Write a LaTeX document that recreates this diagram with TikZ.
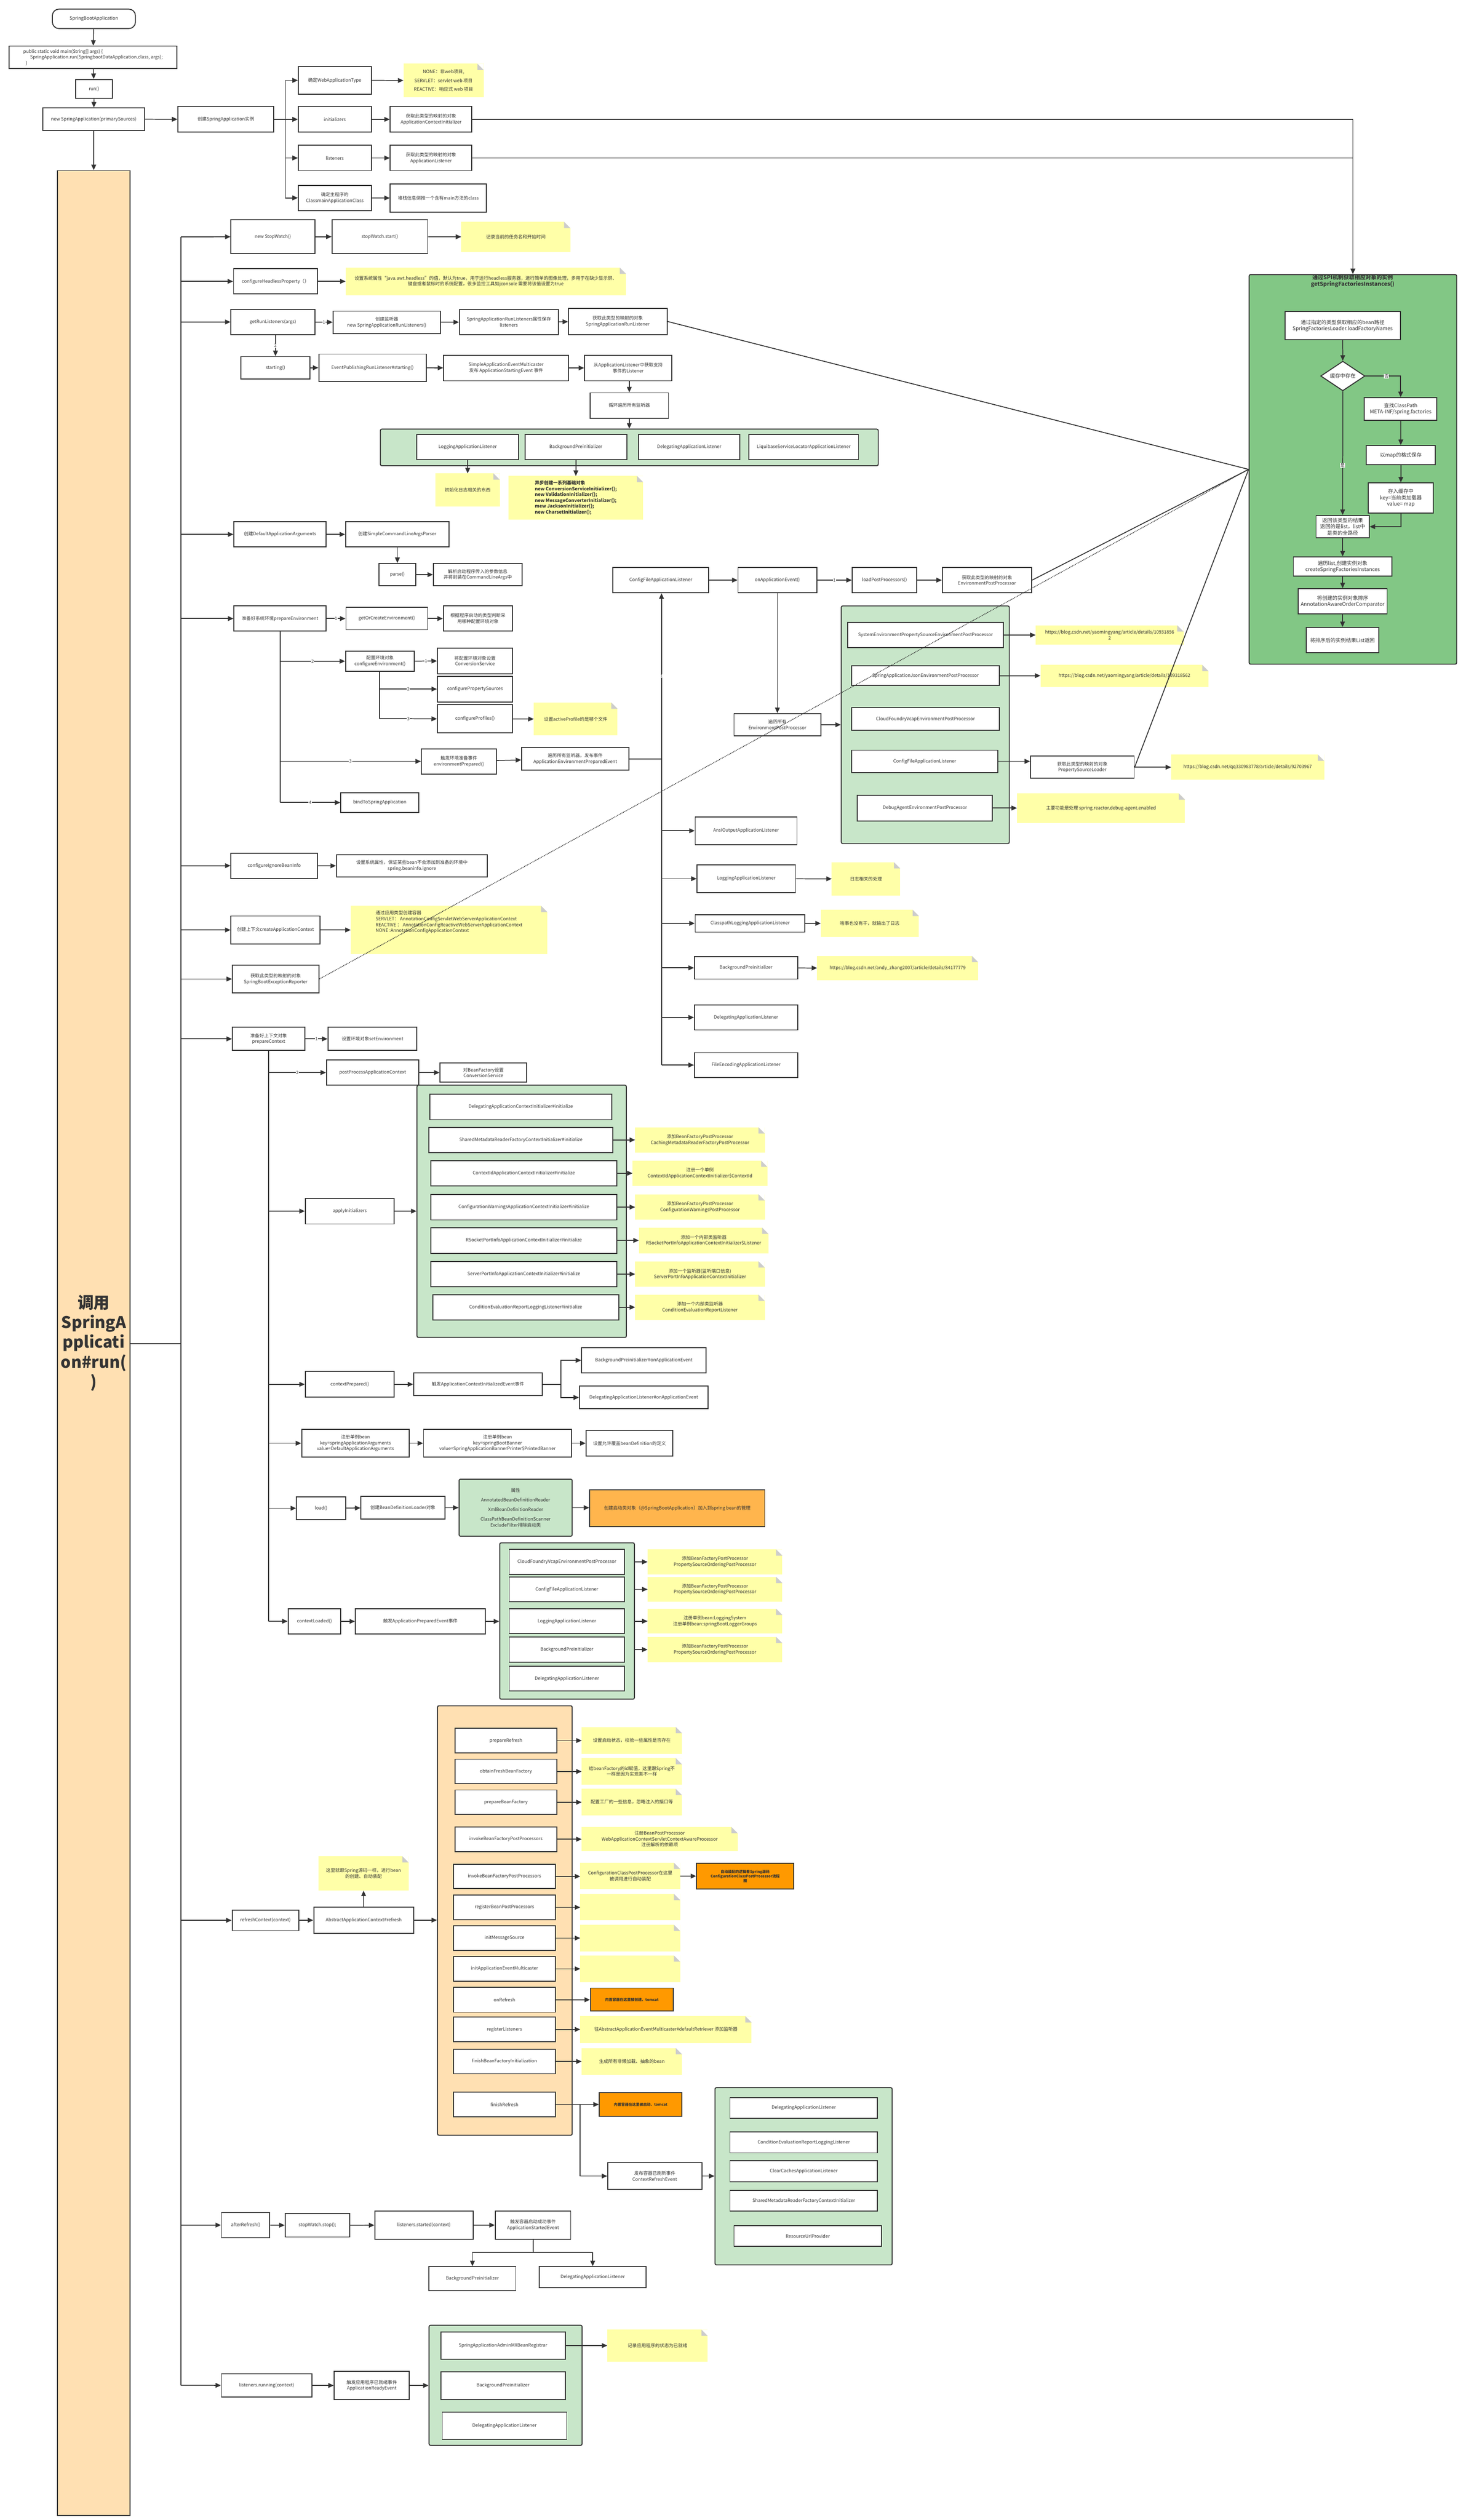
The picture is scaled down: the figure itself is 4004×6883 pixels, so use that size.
\documentclass[tikz,border=0pt]{standalone}
\usepackage{fontspec}
\setmainfont{Noto Sans CJK SC}
\usetikzlibrary{arrows.meta,shapes.geometric}
\definecolor{noteY}{HTML}{FFFFA8}
\definecolor{gLight}{HTML}{C8E6C9}
\definecolor{gDark}{HTML}{82C785}
\definecolor{peach}{HTML}{FFE0B2}
\definecolor{orA}{HTML}{FF9900}
\definecolor{orB}{HTML}{FFB54D}
\definecolor{ink}{HTML}{333333}
\newcommand\mkbox[7][]{\node[box,#1,minimum width={(#5-#3)*1pt},minimum height={(#6-#4)*1pt}] (#2) at ({(#3+#5)/2},{(#4+#6)/2}) {#7};}
\tikzset{
 box/.style={draw=ink,line width=2.6pt,fill=white,align=center,inner sep=2pt,text=ink},
 note/.style={draw=none,fill=noteY,line width=0pt,path picture={
   \fill[white]([xshift=-17pt]path picture bounding box.north east)--(path picture bounding box.north east)--([yshift=-17pt]path picture bounding box.north east)--cycle;
   \fill[gray!40]([xshift=-17pt]path picture bounding box.north east)--([yshift=-17pt]path picture bounding box.north east)--([xshift=-17pt,yshift=-17pt]path picture bounding box.north east)--cycle;}},
 gpan/.style={fill=gLight,draw=ink,line width=2.6pt,rounded corners=4pt},
 opan/.style={fill=peach,draw=ink,line width=2.6pt,rounded corners=4pt},
 obox/.style={fill=orA,font=\bfseries},
 arr/.style={draw=ink,line width=2.4pt,-{Triangle[length=15pt,width=13pt]}},
 ln/.style={draw=ink,line width=2.4pt},
 lab/.style={fill=white,inner sep=1pt,font=\fontsize{12}{14}\selectfont,text=ink},
}
\begin{document}
\begin{tikzpicture}[x=1pt,y=-1pt,font=\fontsize{12.5}{16}\selectfont]
\useasboundingbox (0,0) rectangle (4004,6883);
\fill[white] (0,0) rectangle (4004,6883);
% ===== right SPI panel =====
\mkbox[gpan,fill=gDark]{gpR}{3412}{750}{3979}{1814}{}
\node[font=\fontsize{15}{18}\selectfont\bfseries,align=center,text=ink] at (3695,768) {通过SPI机制获取相应对象的实例\\getSpringFactoriesInstances()};
\begin{scope}[font=\fontsize{14}{17}\selectfont]
\mkbox{s1}{3510}{851}{3825}{928}{通过指定的类型获取相应的bean路径\\SpringFactoriesLoader.loadFactoryNames}
\node[draw=ink,line width=2.6pt,fill=white,shape=diamond,aspect=1.5,minimum width=121pt,minimum height=81pt,inner sep=0pt,text=ink] (dia) at (3668,1027) {缓存中存在};
\mkbox{s2}{3727}{1086}{3925}{1148}{查找ClassPath\\META-INF/spring.factories}
\mkbox{s3}{3732}{1217}{3921}{1269}{以map的格式保存}
\mkbox{s4}{3738}{1319}{3915}{1401}{存入缓存中\\key=当前类加载器\\value= map}
\mkbox{s5}{3595}{1408}{3740}{1469}{返回该类型的结果\\返回的是list，list中\\是类的全路径}
\mkbox{s6}{3533}{1521}{3802}{1574}{遍历list,创建实例对象\\createSpringFactoriesInstances}
\mkbox{s7}{3546}{1608}{3789}{1677}{将创建的实例对象排序\\AnnotationAwareOrderComparator}
\mkbox{s8}{3568}{1714}{3766}{1783}{将排序后的实例结果List返回}
\end{scope}
\draw[arr] (s1) -- (dia);
\draw[arr] (dia.east) -| node[lab,pos=0.3]{否} (s2.north);
\draw[arr] (s2) -- (s3);
\draw[arr] (s3) -- (s4);
\draw[arr] (s4.south) |- (s5.east);
\draw[arr] (dia.south) -- node[lab,pos=0.6]{是} (s5.north);
\draw[arr] (s5) -- (s6);
\draw[arr] (s6) -- (s7);
\draw[arr] (s7) -- (s8);
% ===== top =====
\mkbox[rounded corners=18pt]{sba}{143}{25}{370}{78}{SpringBootApplication}
\mkbox[align=left]{mainb}{25}{126}{483}{187}{public static void main(String[] args) \{\\\hspace*{1.5em}SpringApplication.run(SpringbootDataApplication.class, args);\\\hspace*{0.5em}\}}
\mkbox{runb}{207}{217}{307}{269}{run()}
\mkbox{newsa}{117}{295}{395}{356}{new SpringApplication(primarySources)}
\mkbox{create}{486}{291}{748}{361}{创建SpringApplication实例}
\mkbox{webtype}{815}{182}{1014}{257}{确定WebApplicationType}
\mkbox[note]{nweb}{1102}{174}{1321}{266}{NONE：非web项目,\\[8pt]SERVLET：servlet web 项目\\[8pt]REACTIVE：响应式 web 项目}
\mkbox{inits}{815}{291}{1014}{361}{initializers}
\mkbox{aci}{1066}{291}{1289}{361}{获取此类型的映射的对象\\ApplicationContextInitializer}
\mkbox{lis}{815}{397}{1014}{466}{listeners}
\mkbox{al}{1066}{397}{1289}{466}{获取此类型的映射的对象\\ApplicationListener}
\mkbox{mcls}{815}{506}{1014}{575}{确定主程序的\\ClassmainApplicationClass}
\mkbox{stack}{1066}{503}{1329}{579}{堆栈信息倒推一个含有main方法的class}
\draw[arr] (sba) -- (mainb);
\draw[arr] (mainb) -- (runb);
\draw[arr] (runb) -- (newsa);
\draw[arr] (newsa) -- (create);
\coordinate (cb) at (780,326);
\draw[ln] (create.east) -- (cb);
\draw[arr] (cb) |- (webtype);
\draw[arr] (cb) -- (inits);
\draw[arr] (cb) |- (lis);
\draw[arr] (cb) |- (mcls);
\draw[arr] (webtype) -- (nweb);
\draw[arr] (inits) -- (aci);
\draw[arr] (lis) -- (al);
\draw[arr] (mcls) -- (stack);
\draw[arr] (aci.east) -| (gpR.north);
\draw[ln] (al.east) -- (al.east -| gpR.north);
% ===== run column =====
\mkbox[fill=peach,font=\fontsize{44}{54}\selectfont\bfseries]{runcol}{157}{466}{355}{6870}{调用\\SpringA\\pplicati\\on\#run(\\)}
\draw[arr] (newsa) -- (newsa |- runcol.north);
\coordinate (tk) at (494,3670);
\coordinate (ttop) at (494,647);
\coordinate (tbot) at (494,6515);
\draw[ln] (runcol.east |- tk) -- (tk);
\draw[ln] (ttop) -- (tbot);
% ===== stopwatch / headless / listeners =====
\mkbox{sw}{631}{600}{860}{693}{new  StopWatch()}
\mkbox{sws}{907}{600}{1168}{693}{stopWatch.start()}
\mkbox[note]{n1}{1260}{606}{1558}{688}{记录当前的任务名和开始时间}
\draw[arr] (ttop) -- (sw); \draw[arr] (sw) -- (sws); \draw[arr] (sws) -- (n1);
\mkbox{hl}{638}{734}{867}{803}{configureHeadlessProperty（）}
\mkbox[note]{n2}{944}{731}{1710}{806}{设置系统属性“java.awt.headless”的值，默认为true，用于运行headless服务器，进行简单的图像处理，多用于在缺少显示屏、\\键盘或者鼠标时的系统配置，很多监控工具如jconsole 需要将该值设置为true}
\draw[arr] (ttop |- hl) -- (hl); \draw[arr] (hl) -- (n2);
\mkbox{grl}{631}{845}{860}{914}{getRunListeners(args)}
\mkbox{cl}{910}{850}{1203}{911}{创建监听器\\new SpringApplicationRunListeners()}
\mkbox{sarl}{1255}{845}{1525}{914}{SpringApplicationRunListeners属性保存\\listeners}
\mkbox{gsarl}{1553}{842}{1822}{914}{获取此类型的映射的对象\\SpringApplicationRunListener}
\draw[arr] (ttop |- grl) -- (grl);
\draw[arr] (grl) -- node[lab]{1} (cl); \draw[arr] (cl) -- (sarl); \draw[arr] (sarl) -- (gsarl);
\draw[ln] (gsarl.east) -- (gpR.west);
\mkbox{starting}{658}{974}{847}{1035}{starting()}
\mkbox{eprl}{871}{967}{1164}{1042}{EventPublishingRunListener\#starting()}
\mkbox{saem}{1212}{970}{1553}{1040}{SimpleApplicationEventMulticaster\\发布 ApplicationStartingEvent 事件}
\mkbox{fromal}{1597}{970}{1835}{1040}{从ApplicationListener中获取支持\\事件的Listener}
\mkbox{loop}{1612}{1073}{1826}{1142}{循环遍历所有监听器}
\draw[arr] (grl.south -| starting) -- node[lab]{2} (starting);
\draw[arr] (starting) -- (eprl); \draw[arr] (eprl) -- (saem); \draw[arr] (saem) -- (fromal);
\draw[arr] (fromal.south -| loop) -- (loop);
\mkbox[gpan]{gp1}{1039}{1172}{2399}{1272}{}
\mkbox{lg1}{1138}{1187}{1417}{1256}{LoggingApplicationListener}
\mkbox{bg1}{1434}{1187}{1712}{1256}{BackgroundPreinitializer}
\mkbox{dl1}{1744}{1187}{2021}{1256}{DelegatingApplicationListener}
\mkbox{lq1}{2046}{1187}{2345}{1256}{LiquibaseServiceLocatorApplicationListener}
\draw[arr] (loop) -- (loop |- gp1.north);
\mkbox[note]{nlog}{1190}{1293}{1365}{1384}{初始化日志相关的东西}
\mkbox[note,align=left,font=\fontsize{12.5}{16}\selectfont\bfseries]{nasync}{1389}{1300}{1757}{1419}{异步创建一系列基础对象\\new ConversionServiceInitializer();\\new ValidationInitializer();\\new MessageConverterInitializer();\\mew JacksonInitializer();\\new CharsetInitializer();}
\draw[arr] (lg1.south) -- (lg1.south |- nlog.north);
\draw[arr] (bg1.south) -- (bg1.south |- nasync.north);
% ===== arguments =====
\mkbox{daa}{639}{1425}{891}{1494}{创建DefaultApplicationArguments}
\mkbox{scl}{944}{1425}{1226}{1494}{创建SimpleCommandLineArgsParser}
\mkbox{parse}{1035}{1539}{1136}{1600}{parse()}
\mkbox{pinfo}{1184}{1539}{1426}{1600}{解析启动程序传入的参数信息\\并将封装在CommandLineArgs中}
\draw[arr] (ttop |- daa) -- (daa); \draw[arr] (daa) -- (scl);
\draw[arr] (scl.south -| parse) -- (parse); \draw[arr] (parse) -- (pinfo);
% ===== prepareEnvironment =====
\mkbox{pe}{639}{1655}{891}{1724}{准备好系统环境prepareEnvironment}
\mkbox{goce}{945}{1659}{1168}{1720}{getOrCreateEnvironment()}
\mkbox{gocen}{1211}{1655}{1400}{1724}{根据程序启动的类型判断采\\用哪种配置环境对象}
\mkbox{ce}{944}{1779}{1132}{1833}{配置环境对象\\configureEnvironment()}
\mkbox{cs}{1195}{1770}{1400}{1840}{将配置环境对象设置\\ConversionService}
\mkbox{cps}{1195}{1847}{1400}{1917}{configurePropertySources}
\mkbox{cpf}{1195}{1925}{1400}{2002}{configureProfiles()}
\mkbox[note]{npf}{1458}{1919}{1687}{2009}{设置activeProfile的是哪个文件}
\mkbox{ep}{1151}{2045}{1356}{2114}{触发环境准备事件\\environmentPrepared()}
\mkbox{epall}{1425}{2041}{1718}{2104}{遍历所有监听器，发布事件\\ApplicationEnvironmentPreparedEvent}
\mkbox{bind}{931}{2165}{1144}{2219}{bindToSpringApplication}
\draw[arr] (ttop |- pe) -- (pe);
\draw[arr] (pe) -- node[lab]{1} (goce); \draw[arr] (goce) -- (gocen);
\coordinate (pet) at (765,2192);
\draw[ln] (pe.south -| pet) -- (pet);
\draw[arr] (pet |- ce) -- node[lab]{2} (ce);
\draw[arr] (pet |- ep) -- node[lab]{3} (ep);
\draw[arr] (pet) -- node[lab]{4} (bind);
\draw[arr] (ce) -- node[lab]{1} (cs);
\coordinate (cet) at (1037,1963);
\draw[ln] (ce.south -| cet) -- (cet);
\draw[arr] (cet |- cps) -- node[lab]{2} (cps);
\draw[arr] (cet) -- node[lab]{3} (cpf);
\draw[arr] (cpf) -- (npf);
\draw[arr] (ep) -- (epall);
% ===== ConfigFileApplicationListener branch =====
\mkbox{cfal}{1674}{1550}{1936}{1619}{ConfigFileApplicationListener}
\mkbox{oae}{2016}{1550}{2231}{1619}{onApplicationEvent()}
\mkbox{lpp}{2328}{1550}{2504}{1619}{loadPostProcessors()}
\mkbox{gepp}{2574}{1550}{2818}{1619}{获取此类型的映射的对象\\EnvironmentPostProcessor}
\mkbox{allepp}{2005}{1949}{2242}{2010}{遍历所有\\EnvironmentPostProcessor}
\draw[arr] (cfal) -- (oae); \draw[arr] (oae) -- node[lab]{1} (lpp); \draw[arr] (lpp) -- (gepp);
\draw[ln] (gepp.east) -- (gpR.west);
\draw[arr,line width=1.6pt] (oae.south -| allepp) -- (allepp);
\mkbox[gpan]{gp2}{2298}{1655}{2757}{2304}{}
\draw[arr] (allepp) -- (allepp -| gp2.west);
\mkbox{sysp}{2315}{1700}{2741}{1769}{SystemEnvironmentPropertySourceEnvironmentPostProcessor}
\mkbox{json}{2326}{1819}{2730}{1872}{SpringApplicationJsonEnvironmentPostProcessor}
\mkbox{cfv}{2326}{1933}{2730}{1995}{CloudFoundryVcapEnvironmentPostProcessor}
\mkbox{cfl}{2326}{2049}{2726}{2110}{ConfigFileApplicationListener}
\mkbox{dbg}{2342}{2172}{2711}{2242}{DebugAgentEnvironmentPostProcessor}
\mkbox[note]{nu1}{2829}{1708}{3233}{1761}{https://blog.csdn.net/yaomingyang/article/details/10931856\\2}
\mkbox[note]{nu2}{2842}{1816}{3301}{1876}{https://blog.csdn.net/yaomingyang/article/details/109318562}
\mkbox{psl}{2815}{2065}{3098}{2126}{获取此类型的映射的对象\\PropertySourceLoader}
\mkbox[note]{nu3}{3199}{2061}{3617}{2130}{https://blog.csdn.net/qq330983778/article/details/92703967}
\mkbox[note]{ndbg}{2778}{2167}{3237}{2248}{主要功能是处理 spring.reactor.debug-agent.enabled}
\draw[arr] (sysp) -- (nu1.west |- sysp); \draw[arr] (json) -- (nu2.west |- json);
\draw[arr] (cfl) -- (psl.west |- cfl); \draw[arr] (psl) -- (nu3.west |- psl);
\draw[arr] (dbg) -- (ndbg.west |- dbg);
\draw[ln] (psl.east) -- (gpR.west);
% listeners of ApplicationEnvironmentPreparedEvent
\mkbox{ansi}{1899}{2231}{2177}{2307}{AnsiOutputApplicationListener}
\mkbox{lg2}{1904}{2362}{2173}{2438}{LoggingApplicationListener}
\mkbox[note]{nlg2}{2272}{2355}{2459}{2446}{日志相关的处理}
\mkbox{cpl}{1899}{2498}{2199}{2546}{ClasspathLoggingApplicationListener}
\mkbox[note]{ncpl}{2242}{2485}{2510}{2559}{啥事也没有干，就输出了日志}
\mkbox{bg2}{1897}{2613}{2179}{2674}{BackgroundPreinitializer}
\mkbox[note]{nbg2}{2232}{2611}{2672}{2678}{https://blog.csdn.net/andy\_zhang2007/article/details/84177779}
\mkbox{dl2}{1897}{2745}{2179}{2813}{DelegatingApplicationListener}
\mkbox{fe}{1897}{2875}{2179}{2943}{FileEncodingApplicationListener}
\coordinate (lt) at (1807,2073);
\coordinate (lb) at (1807,2909);
\draw[ln] (epall.east |- lt) -- (lt) -- (lb);
\draw[arr] (lt) -- node[lab,pos=0.5]{1} (cfal.south -| lt);
\draw[arr] (lt |- ansi) -- (ansi); \draw[arr] (lt |- lg2) -- (lg2); \draw[arr] (lt |- cpl) -- (cpl);
\draw[arr] (lt |- bg2) -- (bg2); \draw[arr] (lt |- dl2) -- (dl2); \draw[arr] (lb) -- (fe);
\draw[arr] (lg2) -- (nlg2); \draw[arr] (cpl) -- (ncpl); \draw[arr] (bg2) -- (nbg2);
% ===== context creation =====
\mkbox{cibi}{631}{2330}{867}{2399}{configureIgnoreBeanInfo}
\mkbox{ncibi}{919}{2335}{1331}{2395}{设置系统属性，保证某些bean不会添加到准备的环境中\\spring.beaninfo.ignore}
\mkbox{cac}{631}{2502}{874}{2578}{创建上下文createApplicationContext}
\mkbox[note,align=left]{ncac}{958}{2474}{1495}{2606}{通过应用类型创建容器\\SERVLET： AnnotationConfigServletWebServerApplicationContext\\REACTIVE ： AnnotationConfigReactiveWebServerApplicationContext\\NONE :AnnotationConfigApplicationContext\\[30pt]}
\mkbox{sber}{635}{2636}{871}{2712}{获取此类型的映射的对象\\SpringBootExceptionReporter}
\draw[arr] (ttop |- cibi) -- (cibi); \draw[arr] (cibi) -- (ncibi);
\draw[arr] (ttop |- cac) -- (cac); \draw[arr] (cac) -- (ncac);
\draw[arr] (ttop |- sber) -- (sber);
\draw[ln,dotted,line width=2pt] (sber.east) -- (gpR.west);
% ===== prepareContext =====
\mkbox{pc}{635}{2806}{833}{2869}{准备好上下文对象\\prepareContext}
\mkbox{sete}{896}{2806}{1139}{2869}{设置环境对象setEnvironment}
\mkbox{ppac}{892}{2895}{1144}{2964}{postProcessApplicationContext}
\mkbox{cs2}{1202}{2903}{1439}{2956}{对BeanFactory设置\\ConversionService}
\draw[arr] (ttop |- pc) -- (pc); \draw[arr] (pc) -- node[lab]{1} (sete);
\coordinate (pct) at (734,4428);
\draw[ln] (pc.south -| pct) -- (pct);
\draw[arr] (pct |- ppac) -- node[lab]{2} (ppac); \draw[arr] (ppac) -- (cs2);
\mkbox[gpan]{gp3}{1139}{2964}{1711}{3653}{}
\mkbox{i1}{1174}{2989}{1671}{3058}{DelegatingApplicationContextInitializer\#initialize}
\mkbox{i2}{1172}{3079}{1674}{3148}{SharedMetadataReaderFactoryContextInitializer\#initialize}
\mkbox{i3}{1177}{3170}{1685}{3239}{ContextIdApplicationContextInitializer\#initialize}
\mkbox{i4}{1177}{3262}{1685}{3332}{ConfigurationWarningsApplicationContextInitializer\#initialize}
\mkbox{i5}{1177}{3353}{1685}{3423}{RSocketPortInfoApplicationContextInitializer\#initialize}
\mkbox{i6}{1177}{3445}{1685}{3515}{ServerPortInfoApplicationContextInitializer\#initialize}
\mkbox{i7}{1182}{3536}{1690}{3605}{ConditionEvaluationReportLoggingListener\#initialize}
\mkbox[note]{ni2}{1735}{3079}{2089}{3148}{添加BeanFactoryPostProcessor\\CachingMetadataReaderFactoryPostProcessor}
\mkbox[note]{ni3}{1728}{3170}{2096}{3239}{注册一个单例\\ContextIdApplicationContextInitializer\$ContextId}
\mkbox[note]{ni4}{1735}{3262}{2089}{3332}{添加BeanFactoryPostProcessor\\ConfigurationWarningsPostProcessor}
\mkbox[note]{ni5}{1745}{3353}{2099}{3423}{添加一个内部类监听器\\RSocketPortInfoApplicationContextInitializer\$Listener}
\mkbox[note]{ni6}{1735}{3445}{2089}{3515}{添加一个监听器(监听端口信息)\\ServerPortInfoApplicationContextInitializer}
\mkbox[note]{ni7}{1735}{3536}{2089}{3605}{添加一个内部类监听器\\ConditionEvaluationReportListener}
\foreach \a/\b in {i2/ni2,i3/ni3,i4/ni4,i5/ni5,i6/ni6,i7/ni7} \draw[arr] (\a) -- (\b.west |- \a);
\mkbox{ai}{834}{3273}{1077}{3343}{applyInitializers}
\draw[arr] (pct |- ai) -- (ai); \draw[arr] (ai) -- (ai -| gp3.west);
\mkbox{cpd}{834}{3746}{1077}{3816}{contextPrepared()}
\mkbox{acie}{1130}{3750}{1481}{3812}{触发ApplicationContextInitializedEvent事件}
\mkbox{bgo}{1589}{3681}{1928}{3750}{BackgroundPreinitializer\#onApplicationEvent}
\mkbox{dlo}{1583}{3786}{1934}{3848}{DelegatingApplicationListener\#onApplicationEvent}
\draw[arr] (pct |- cpd) -- (cpd); \draw[arr] (cpd) -- (acie);
\coordinate (af) at (1532,3781);
\draw[ln] (acie.east) -- (af);
\draw[arr] (af) |- (bgo); \draw[arr] (af) |- (dlo);
\mkbox{reg1}{824}{3904}{1118}{3980}{注册单例bean\\key=springApplicationArguments\\value=DefaultApplicationArguments}
\mkbox{reg2}{1157}{3904}{1561}{3980}{注册单例bean\\key=springBootBanner\\value=SpringApplicationBannerPrinter\$PrintedBanner}
\mkbox{ovr}{1601}{3907}{1838}{3977}{设置允许覆盖beanDefinition的定义}
\draw[arr] (pct |- reg1) -- (reg1); \draw[arr] (reg1) -- (reg2); \draw[arr] (reg2) -- (ovr);
\mkbox{load}{810}{4089}{944}{4150}{load()}
\mkbox{bdl}{986}{4087}{1215}{4149}{创建BeanDefinitionLoader对象}
\mkbox[gpan]{attr}{1254}{4040}{1563}{4196}{属性\\[10pt]AnnotatedBeanDefinitionReader\\[10pt]XmlBeanDefinitionReader\\[10pt]ClassPathBeanDefinitionScanner\\ExcludeFilter排除启动类}
\mkbox[fill=orB]{ostart}{1611}{4069}{2089}{4170}{创建启动类对象（@SpringBootApplication）加入到spring bean的管理}
\draw[arr] (pct |- load) -- (load); \draw[arr] (load) -- (bdl); \draw[arr] (bdl) -- (attr.west |- bdl); \draw[arr] (attr.east |- bdl) -- (ostart.west |- bdl);
\mkbox[gpan]{gp4}{1365}{4214}{1733}{4641}{}
\mkbox{l1}{1391}{4232}{1706}{4300}{CloudFoundryVcapEnvironmentPostProcessor}
\mkbox{l2}{1391}{4307}{1706}{4375}{ConfigFileApplicationListener}
\mkbox{l3}{1391}{4394}{1706}{4462}{LoggingApplicationListener}
\mkbox{l4}{1391}{4471}{1706}{4540}{BackgroundPreinitializer}
\mkbox{l5}{1391}{4551}{1706}{4619}{DelegatingApplicationListener}
\mkbox[note]{nl1}{1769}{4232}{2137}{4300}{添加BeanFactoryPostProcessor\\PropertySourceOrderingPostProcessor}
\mkbox[note]{nl2}{1769}{4307}{2137}{4375}{添加BeanFactoryPostProcessor\\PropertySourceOrderingPostProcessor}
\mkbox[note]{nl3}{1769}{4394}{2137}{4462}{注册单例bean:LoggingSystem\\注册单例bean:springBootLoggerGroups}
\mkbox[note]{nl4}{1769}{4471}{2137}{4540}{添加BeanFactoryPostProcessor\\PropertySourceOrderingPostProcessor}
\foreach \a/\b in {l1/nl1,l2/nl2,l3/nl3,l4/nl4} \draw[arr] (\a.east -| gp4.east) -- (\b);
\mkbox{cld}{787}{4394}{931}{4463}{contextLoaded()}
\mkbox{ape}{971}{4394}{1326}{4463}{触发ApplicationPreparedEvent事件}
\draw[arr] (pct) -- (cld); \draw[arr] (cld) -- (ape); \draw[arr] (ape) -- (ape -| gp4.west);
% ===== refresh =====
\mkbox[opan]{op}{1195}{4659}{1563}{5832}{}
\mkbox{rc}{634}{5217}{816}{5273}{refreshContext(context)}
\mkbox{aac}{857}{5209}{1130}{5280}{AbstractApplicationContext\#refresh}
\mkbox[note]{nsp}{870}{5070}{1116}{5164}{这里就跟Spring源码一样，进行bean\\的创建、自动装配}
\draw[arr] (ttop |- rc) -- (rc); \draw[arr] (rc) -- (aac);
\draw[arr] (aac) -- (aac -| op.west); \draw[arr] (aac) -- (nsp);
\mkbox{r1}{1243}{4720}{1521}{4788}{prepareRefresh}
\mkbox{r2}{1243}{4805}{1521}{4872}{obtainFreshBeanFactory}
\mkbox{r3}{1243}{4889}{1521}{4956}{prepareBeanFactory}
\mkbox{r4}{1243}{4990}{1521}{5057}{invokeBeanFactoryPostProcessors}
\mkbox{r5}{1239}{5092}{1517}{5158}{invokeBeanFactoryPostProcessors}
\mkbox{r6}{1239}{5176}{1517}{5243}{registerBeanPostProcessors}
\mkbox{r7}{1239}{5260}{1517}{5327}{initMessageSource}
\mkbox{r8}{1239}{5344}{1517}{5411}{initApplicationEventMulticaster}
\mkbox{r9}{1239}{5428}{1517}{5496}{onRefresh}
\mkbox{r10}{1239}{5509}{1517}{5577}{registerListeners}
\mkbox{r11}{1239}{5597}{1517}{5664}{finishBeanFactoryInitialization}
\mkbox{r12}{1239}{5714}{1517}{5782}{finishRefresh}
\mkbox[note]{nr1}{1589}{4717}{1863}{4790}{设置启动状态，校验一些属性是否存在}
\mkbox[note]{nr2}{1589}{4802}{1863}{4874}{给beanFactory的id赋值，这里跟Spring不\\一样是因为实现类不一样}
\mkbox[note]{nr3}{1589}{4886}{1863}{4958}{配置工厂的一些信息，忽略注入的接口等}
\mkbox[note]{nr4}{1589}{4990}{2015}{5056}{注册BeanPostProcessor\\WebApplicationContextServletContextAwareProcessor\\注册解析的依赖项}
\mkbox[note]{nr5}{1585}{5088}{1858}{5160}{ConfigurationClassPostProcessor在这里\\被调用进行自动装配}
\mkbox[obox,draw=ink,line width=2.6pt]{or5}{1903}{5089}{2168}{5160}{自动装配的逻辑看Spring源码\\ConfigurationClassPostProcessor流程\\图}
\mkbox[note]{nr6}{1585}{5173}{1858}{5245}{}
\mkbox[note]{nr7}{1585}{5257}{1858}{5330}{}
\mkbox[note]{nr8}{1585}{5341}{1858}{5414}{}
\mkbox[obox]{or9}{1613}{5430}{1839}{5493}{内置容器在这里被创建、tomcat}
\mkbox[note]{nr10}{1585}{5507}{2053}{5580}{往AbstractApplicationEventMulticaster\#defaultRetriever 添加监听器}
\mkbox[note]{nr11}{1589}{5594}{1863}{5667}{生成所有非懒加载、抽象的bean}
\mkbox[obox]{or12}{1637}{5716}{1863}{5780}{内置容器在这里被启动、tomcat}
\foreach \a/\b in {r1/nr1,r2/nr2,r3/nr3,r4/nr4,r5/nr5,r6/nr6,r7/nr7,r8/nr8,r9/or9,r10/nr10,r11/nr11,r12/or12} \draw[arr] (\a) -- (\b.west |- \a);
\draw[arr] (nr5) -- (or5);
\mkbox{cre}{1660}{5907}{1917}{5980}{发布容器已刷新事件\\ContextRefreshEvent}
\coordinate (fr) at (1584,5748);
\draw[arr] (fr) |- (cre);
\mkbox[gpan]{gp5}{1953}{5702}{2437}{6186}{}
\mkbox{c1}{1994}{5729}{2397}{5786}{DelegatingApplicationListener}
\mkbox{c2}{1994}{5823}{2397}{5880}{ConditionEvaluationReportLoggingListener}
\mkbox{c3}{1994}{5902}{2397}{5959}{ClearCachesApplicationListener}
\mkbox{c4}{1994}{5983}{2397}{6039}{SharedMetadataReaderFactoryContextInitializer}
\mkbox{c5}{2005}{6079}{2408}{6136}{ResourceUrlProvider}
\draw[arr] (cre) -- (cre -| gp5.west);
% ===== afterRefresh / started =====
\mkbox{ar}{605}{6043}{737}{6112}{afterRefresh()}
\mkbox{swp}{779}{6046}{955}{6110}{stopWatch.stop();}
\mkbox{lst}{1024}{6039}{1292}{6116}{listeners.started(context)}
\mkbox{sce}{1353}{6039}{1559}{6116}{触发容器启动成功事件\\ApplicationStartedEvent}
\mkbox{bg3}{1172}{6191}{1409}{6256}{BackgroundPreinitializer}
\mkbox{dl3}{1473}{6191}{1765}{6248}{DelegatingApplicationListener}
\draw[arr] (ttop |- ar) -- (ar); \draw[arr] (ar) -- (swp); \draw[arr] (swp) -- (lst); \draw[arr] (lst) -- (sce);
\coordinate (sf) at (1456,6152);
\draw[ln] (sce.south) -- (sce.south |- sf);
\draw[ln] (bg3.north |- sf) -- (dl3.north |- sf);
\draw[arr] (bg3.north |- sf) -- (bg3); \draw[arr] (dl3.north |- sf) -- (dl3);
% ===== running =====
\mkbox{lrun}{605}{6484}{852}{6547}{listeners.running(context)}
\mkbox{are}{913}{6477}{1118}{6554}{触发应用程序已就绪事件\\ApplicationReadyEvent}
\mkbox[gpan]{gp6}{1172}{6351}{1590}{6679}{}
\mkbox{adm}{1204}{6369}{1544}{6444}{SpringApplicationAdminMXBeanRegistrar}
\mkbox{bg4}{1204}{6478}{1544}{6554}{BackgroundPreinitializer}
\mkbox{dl4}{1208}{6588}{1548}{6663}{DelegatingApplicationListener}
\mkbox[note]{nadm}{1659}{6363}{1933}{6450}{记录应用程序的状态为已就绪}
\draw[arr] (tbot) -- (lrun); \draw[arr] (lrun) -- (are); \draw[arr] (are) -- (are -| gp6.west);
\draw[arr] (adm) -- (nadm);
\end{tikzpicture}
\end{document}
